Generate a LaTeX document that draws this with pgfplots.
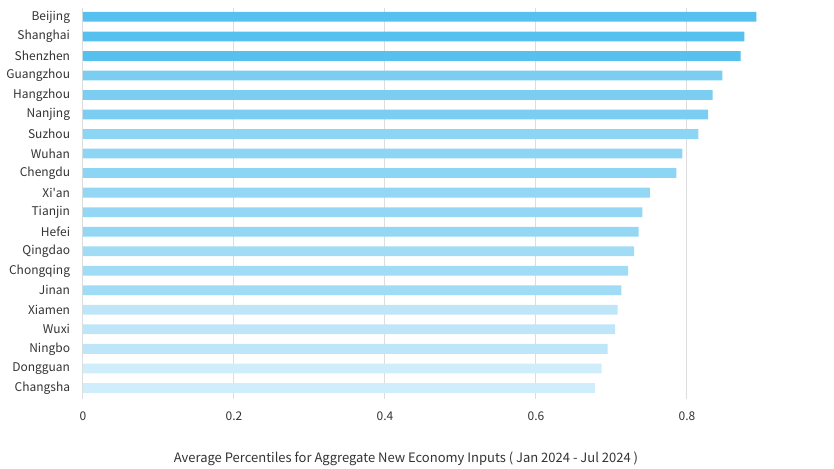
\documentclass[border=0pt]{standalone}
\usepackage{fontspec}
\setmainfont{Noto Sans CJK SC}[Ligatures=TeXOff]
\usepackage{pgfplots}
\pgfplotsset{compat=1.18}

\definecolor{c1}{HTML}{56C1EE}
\definecolor{c2}{HTML}{7BCEF2}
\definecolor{c3}{HTML}{8DD5F4}
\definecolor{c4}{HTML}{93D7F4}
\definecolor{c5}{HTML}{A0DCF5}
\definecolor{c6}{HTML}{BEE6F8}
\definecolor{c7}{HTML}{CFEDFA}
\definecolor{txt}{HTML}{333333}
\definecolor{gridc}{HTML}{DDDDDD}

\begin{document}
\begin{tikzpicture}
\useasboundingbox (0,0) rectangle (625.5pt,351pt);
\begin{axis}[
  at={(62.25pt,52pt)}, anchor=south west,
  scale only axis,
  width=537.9pt, height=292.95pt,
  xbar,
  bar width=0.5,
  xmin=0, xmax=0.95,
  ymin=-0.55, ymax=19.45,
  axis line style={draw=none},
  tick style={draw=none},
  xmajorgrids,
  grid style={gridc, line width=0.75pt},
  xtick={0,0.2,0.4,0.6,0.8},
  xticklabels={0,0.2,0.4,0.6,0.8},
  ytick={0,...,19},
  yticklabels={Changsha,Dongguan,Ningbo,Wuxi,Xiamen,Jinan,Chongqing,Qingdao,Hefei,Tianjin,Xi'an,Chengdu,Wuhan,Suzhou,Nanjing,Hangzhou,Guangzhou,Shenzhen,Shanghai,Beijing},
  ticklabel style={font=\fontsize{9}{10}\selectfont, text=txt, inner sep=0pt},
  yticklabel style={anchor=east, xshift=-5.25pt},
  xticklabel style={anchor=base, yshift=-16.6pt},
  xlabel={Average Percentiles for Aggregate New Economy Inputs ( Jan 2024 - Jul 2024 )},
  xlabel style={at={(axis description cs:0.4503,0)}, anchor=base, yshift=-48pt,
    font=\fontsize{9.75}{11}\selectfont, text=txt, inner sep=0pt},
  every axis plot/.append style={bar shift=0pt, draw=none},
]
\addplot[fill=c1] coordinates {(0.892,19) (0.876,18) (0.871,17)};
\addplot[fill=c2] coordinates {(0.847,16) (0.834,15) (0.828,14)};
\addplot[fill=c3] coordinates {(0.815,13) (0.794,12) (0.786,11)};
\addplot[fill=c4] coordinates {(0.751,10) (0.741,9) (0.736,8)};
\addplot[fill=c5] coordinates {(0.730,7) (0.722,6) (0.713,5)};
\addplot[fill=c6] coordinates {(0.708,4) (0.705,3) (0.695,2)};
\addplot[fill=c7] coordinates {(0.687,1) (0.678,0)};
\end{axis}
\end{tikzpicture}
\end{document}
